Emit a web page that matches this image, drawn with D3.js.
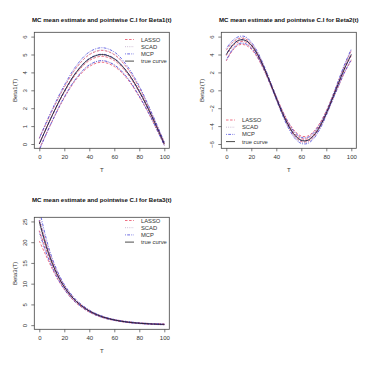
<!DOCTYPE html>
<html>
<head>
<meta charset="UTF-8">
<title>MC mean estimate and pointwise C.I</title>
<script src="https://cdn.jsdelivr.net/npm/d3@7"></script>
<style>
  body { margin: 0; background: #fff; }
  svg { display: block; font-family: "Liberation Sans", Arial, sans-serif; }
  .box { fill: none; stroke: #444; stroke-width: 0.8px; }
  .axis line { stroke: #444; stroke-width: 0.7px; }
  .axis path { display: none; }
  .axis text { fill: #333; font-size: 6px; }
  .title { font-weight: bold; font-size: 6.1px; fill: #111; }
  .lab { font-size: 6px; fill: #333; }
  .leg { font-size: 5.8px; fill: #333; }
  .curve { fill: none; stroke-width: 0.75px; }
</style>
</head>
<body>
<div id="chart"></div>
<script>
// ---- data ----
var tAxis = [0, 20, 40, 60, 80, 100];

// Beta1(t)
var b1T = [0, 10, 20, 30, 40, 50, 60, 70, 80, 90, 100];
var b1True = [0, 1.55, 2.94, 4.05, 4.76, 5.00, 4.76, 4.05, 2.94, 1.55, 0];
var b1LassoMid = [0.02, 1.52, 2.88, 3.97, 4.66, 4.90, 4.66, 3.97, 2.88, 1.52, 0.01];
var b1LassoHi = [0.32, 1.82, 3.18, 4.29, 4.99, 5.23, 4.99, 4.27, 3.13, 1.67, 0.09];
var b1LassoLo = [-0.28, 1.22, 2.58, 3.65, 4.33, 4.57, 4.33, 3.67, 2.63, 1.37, -0.07];
var b1ScadMid = [0.01, 1.53, 2.91, 4.01, 4.71, 4.95, 4.71, 4.01, 2.91, 1.53, 0.00];
var b1ScadHi = [0.28, 1.80, 3.18, 4.30, 5.01, 5.25, 5.01, 4.28, 3.14, 1.67, 0.07];
var b1ScadLo = [-0.26, 1.26, 2.64, 3.72, 4.41, 4.65, 4.41, 3.74, 2.68, 1.39, -0.07];
var b1McpMid = [0.00, 1.56, 2.95, 4.06, 4.78, 5.02, 4.78, 4.06, 2.95, 1.56, 0.01];
var b1McpHi = [0.33, 1.89, 3.28, 4.41, 5.14, 5.38, 5.14, 4.39, 3.23, 1.73, 0.10];
var b1McpLo = [-0.33, 1.23, 2.62, 3.71, 4.42, 4.66, 4.42, 3.73, 2.67, 1.39, -0.08];
var b1Ticks = [0, 1, 2, 3, 4, 5, 6];

// Beta2(t)
var b2T = [0, 5, 10, 15, 20, 25, 30, 35, 40, 45, 50, 55, 60, 65, 70, 75, 80, 85, 90, 95, 100];
var b2True = [4.00, 5.04, 5.59, 5.59, 5.04, 4.00, 2.57, 0.88, -0.88, -2.57, -4.00, -5.04, -5.59, -5.59, -5.04, -4.00, -2.57, -0.88, 0.88, 2.57, 4.00];
var b2LassoMid = [3.88, 4.89, 5.42, 5.42, 4.89, 3.88, 2.49, 0.85, -0.85, -2.49, -3.88, -4.89, -5.42, -5.42, -4.89, -3.88, -2.49, -0.85, 0.85, 2.49, 3.88];
var b2LassoHi = [4.48, 5.34, 5.77, 5.77, 5.19, 4.13, 2.69, 1.00, -0.70, -2.29, -3.63, -4.59, -5.12, -5.12, -4.59, -3.63, -2.29, -0.65, 1.15, 2.89, 4.43];
var b2LassoLo = [3.28, 4.44, 5.07, 5.07, 4.59, 3.63, 2.29, 0.70, -1.00, -2.69, -4.13, -5.19, -5.72, -5.72, -5.19, -4.13, -2.69, -1.05, 0.55, 2.09, 3.33];
var b2ScadMid = [3.96, 4.99, 5.53, 5.53, 4.99, 3.96, 2.54, 0.87, -0.87, -2.54, -3.96, -4.99, -5.53, -5.53, -4.99, -3.96, -2.54, -0.87, 0.87, 2.54, 3.96];
var b2ScadHi = [4.50, 5.40, 5.85, 5.85, 5.26, 4.19, 2.72, 1.01, -0.73, -2.36, -3.73, -4.72, -5.26, -5.26, -4.72, -3.73, -2.36, -0.69, 1.14, 2.90, 4.46];
var b2ScadLo = [3.42, 4.58, 5.21, 5.21, 4.72, 3.73, 2.36, 0.73, -1.01, -2.72, -4.19, -5.26, -5.80, -5.80, -5.26, -4.19, -2.72, -1.05, 0.60, 2.18, 3.46];
var b2McpMid = [4.02, 5.06, 5.61, 5.61, 5.05, 4.01, 2.58, 0.89, -0.88, -2.58, -4.02, -5.06, -5.61, -5.61, -5.06, -4.02, -2.58, -0.89, 0.88, 2.58, 4.02];
var b2McpHi = [4.68, 5.56, 6.00, 6.00, 5.38, 4.29, 2.80, 1.06, -0.71, -2.36, -3.74, -4.73, -5.28, -5.28, -4.73, -3.74, -2.36, -0.67, 1.21, 3.02, 4.62];
var b2McpLo = [3.36, 4.56, 5.22, 5.22, 4.72, 3.73, 2.36, 0.72, -1.05, -2.80, -4.30, -5.39, -5.94, -5.94, -5.39, -4.30, -2.80, -1.11, 0.55, 2.14, 3.42];
var b2Ticks = [-6, -4, -2, 0, 2, 4, 6];

// Beta3(t)
var b3T = [0, 5, 10, 15, 20, 25, 30, 40, 50, 60, 70, 80, 90, 100];
var b3True = [25.0, 19.5, 15.2, 11.8, 9.2, 7.2, 5.6, 3.4, 2.05, 1.25, 0.76, 0.46, 0.28, 0.17];
var b3LassoMid = [22.8, 18.6, 14.8, 11.6, 9.1, 7.1, 5.5, 3.35, 2.02, 1.24, 0.76, 0.47, 0.29, 0.19];
var b3LassoHi = [25.3, 20.2, 15.8, 12.3, 9.6, 7.5, 5.8, 3.55, 2.17, 1.34, 0.86, 0.55, 0.37, 0.27];
var b3LassoLo = [20.3, 17.0, 13.8, 10.9, 8.6, 6.7, 5.2, 3.15, 1.87, 1.14, 0.66, 0.39, 0.21, 0.11];
var b3ScadMid = [24.2, 19.2, 15.1, 11.8, 9.2, 7.2, 5.6, 3.4, 2.05, 1.25, 0.76, 0.46, 0.28, 0.18];
var b3ScadHi = [26.4, 20.6, 16.0, 12.4, 9.65, 7.56, 5.87, 3.58, 2.19, 1.34, 0.85, 0.53, 0.35, 0.25];
var b3ScadLo = [22.0, 17.8, 14.2, 11.2, 8.75, 6.84, 5.33, 3.22, 1.91, 1.16, 0.67, 0.39, 0.21, 0.11];
var b3McpMid = [25.3, 19.7, 15.3, 11.9, 9.25, 7.22, 5.62, 3.41, 2.06, 1.26, 0.77, 0.47, 0.29, 0.18];
var b3McpHi = [28.0, 21.5, 16.4, 12.7, 9.8, 7.66, 5.95, 3.63, 2.22, 1.37, 0.88, 0.56, 0.38, 0.27];
var b3McpLo = [22.6, 17.9, 14.2, 11.1, 8.7, 6.78, 5.29, 3.19, 1.90, 1.15, 0.66, 0.38, 0.20, 0.09];
var b3Ticks = [0, 5, 10, 15, 20, 25];

var legendNames = ["LASSO", "SCAD", "MCP", "true curve"];

// ---- styles ----
var styles = {
  LASSO: { color: "#e8405a", dash: "2.5,1.6" },
  SCAD: { color: "#b59cc0", dash: "0.9,1.3" },
  MCP: { color: "#3a3ad8", dash: "0.9,1.3,2.8,1.3" },
  "true curve": { color: "#111", dash: null }
};

var fmt = d3.format("d");

var svg = d3.select("#chart").append("svg")
  .attr("width", 374)
  .attr("height", 377);

function drawPanel(p) {
  var x = d3.scaleLinear().domain([-4, 104]).range([p.x0, p.x1]);
  var y = d3.scaleLinear().domain(p.yDomain).range([p.y1, p.y0]);
  var g = svg.append("g");

  var clipId = "clip" + p.id;
  svg.append("clipPath").attr("id", clipId)
    .append("rect")
    .attr("x", p.x0).attr("y", p.y0)
    .attr("width", p.x1 - p.x0).attr("height", p.y1 - p.y0);

  var series = [
    { name: "LASSO", v: p.lassoHi }, { name: "LASSO", v: p.lassoLo },
    { name: "SCAD", v: p.scadHi }, { name: "SCAD", v: p.scadLo },
    { name: "MCP", v: p.mcpHi }, { name: "MCP", v: p.mcpLo },
    { name: "LASSO", v: p.lassoMid }, { name: "SCAD", v: p.scadMid },
    { name: "MCP", v: p.mcpMid }, { name: "true curve", v: p.truth }
  ];

  var line = d3.line()
    .x(function(d) { return x(d[0]); })
    .y(function(d) { return y(d[1]); })
    .curve(d3.curveCatmullRom);

  g.append("g").attr("clip-path", "url(#" + clipId + ")")
    .selectAll("path")
    .data(series).enter()
    .append("path")
    .attr("class", "curve")
    .attr("d", function(s) { return line(p.t.map(function(t, i) { return [t, s.v[i]]; })); })
    .style("stroke", function(s) { return styles[s.name].color; })
    .style("stroke-dasharray", function(s) { return styles[s.name].dash; });

  // box
  g.append("rect").attr("class", "box")
    .attr("x", p.x0).attr("y", p.y0)
    .attr("width", p.x1 - p.x0).attr("height", p.y1 - p.y0);

  // axes
  g.append("g").attr("class", "axis")
    .attr("transform", "translate(0," + p.y1 + ")")
    .call(d3.axisBottom(x).tickValues(tAxis).tickFormat(fmt).tickSize(3).tickPadding(3));

  var ya = g.append("g").attr("class", "axis")
    .attr("transform", "translate(" + p.x0 + ",0)")
    .call(d3.axisLeft(y).tickValues(p.ticks).tickFormat(fmt).tickSize(3));
  ya.selectAll("text")
    .attr("x", null).attr("dy", null)
    .attr("text-anchor", "middle")
    .attr("transform", "translate(-7,0) rotate(-90)");

  // labels
  g.append("text").attr("class", "title")
    .attr("x", (p.x0 + p.x1) / 2).attr("y", p.titleY)
    .attr("text-anchor", "middle").text(p.title);
  g.append("text").attr("class", "lab")
    .attr("x", (p.x0 + p.x1) / 2).attr("y", p.y1 + 24)
    .attr("text-anchor", "middle").text("T");
  g.append("text").attr("class", "lab")
    .attr("transform", "translate(" + (p.x0 - 17) + "," + ((p.y0 + p.y1) / 2) + ") rotate(-90)")
    .attr("text-anchor", "middle").text(p.ylab);

  // legend
  var leg = g.append("g").attr("transform", "translate(" + p.legX + "," + p.legY + ")");
  legendNames.forEach(function(n, i) {
    leg.append("line")
      .attr("x1", 0).attr("x2", 9)
      .attr("y1", i * 7.2).attr("y2", i * 7.2)
      .style("stroke", styles[n].color)
      .style("stroke-width", 0.75)
      .style("stroke-dasharray", styles[n].dash);
    leg.append("text").attr("class", "leg")
      .attr("x", 16).attr("y", i * 7.2).attr("dy", "0.35em")
      .text(n);
  });
}

drawPanel({
  id: 1, x0: 34.3, x1: 169.3, y0: 32.3, y1: 148.3, yDomain: [-0.24, 6.24],
  t: b1T, truth: b1True,
  lassoMid: b1LassoMid, lassoHi: b1LassoHi, lassoLo: b1LassoLo,
  scadMid: b1ScadMid, scadHi: b1ScadHi, scadLo: b1ScadLo,
  mcpMid: b1McpMid, mcpHi: b1McpHi, mcpLo: b1McpLo,
  ticks: b1Ticks, title: "MC mean estimate and pointwise C.I for Beta1(t)",
  titleY: 22, ylab: "Beta1(T)", legX: 125, legY: 39.5
});

drawPanel({
  id: 2, x0: 221.3, x1: 356.3, y0: 32.3, y1: 148.3, yDomain: [-6.48, 6.48],
  t: b2T, truth: b2True,
  lassoMid: b2LassoMid, lassoHi: b2LassoHi, lassoLo: b2LassoLo,
  scadMid: b2ScadMid, scadHi: b2ScadHi, scadLo: b2ScadLo,
  mcpMid: b2McpMid, mcpHi: b2McpHi, mcpLo: b2McpLo,
  ticks: b2Ticks, title: "MC mean estimate and pointwise C.I for Beta2(t)",
  titleY: 22, ylab: "Beta2(T)", legX: 226, legY: 120
});

drawPanel({
  id: 3, x0: 34.3, x1: 169.3, y0: 217.3, y1: 329.3, yDomain: [-1, 26],
  t: b3T, truth: b3True,
  lassoMid: b3LassoMid, lassoHi: b3LassoHi, lassoLo: b3LassoLo,
  scadMid: b3ScadMid, scadHi: b3ScadHi, scadLo: b3ScadLo,
  mcpMid: b3McpMid, mcpHi: b3McpHi, mcpLo: b3McpLo,
  ticks: b3Ticks, title: "MC mean estimate and pointwise C.I for Beta3(t)",
  titleY: 202, ylab: "Beta3(T)", legX: 125, legY: 220.5
});
</script>
</body>
</html>
